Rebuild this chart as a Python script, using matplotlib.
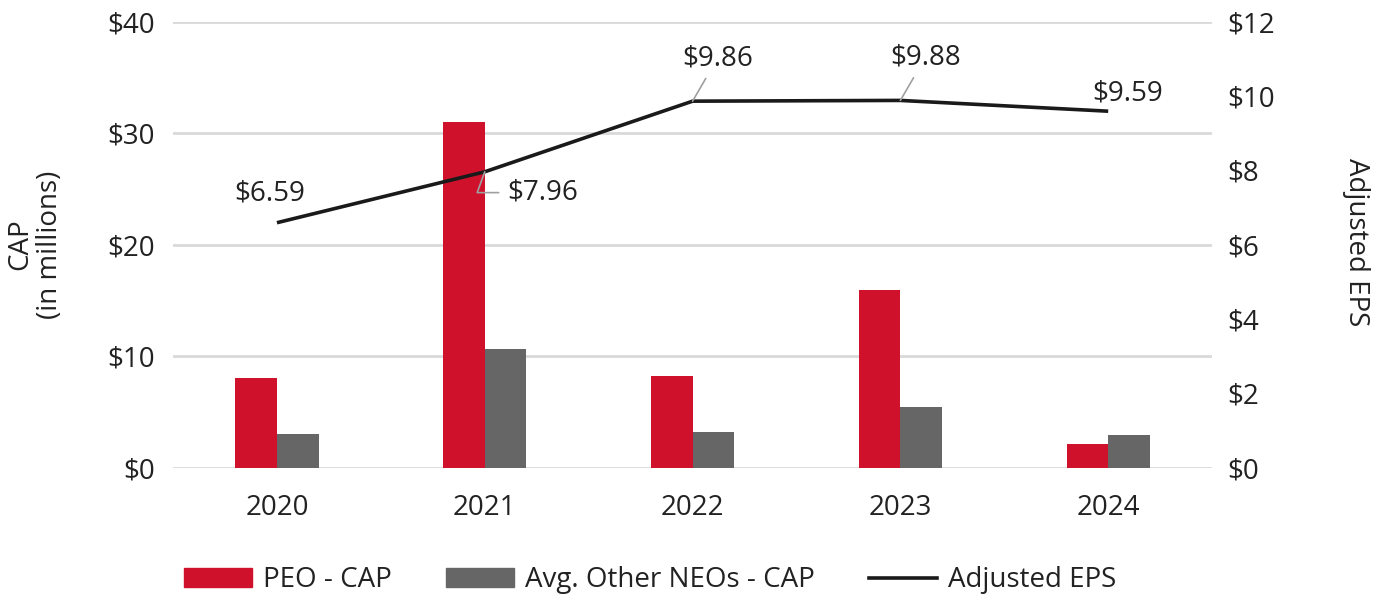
import matplotlib.pyplot as plt
from matplotlib.patches import Patch
from matplotlib.lines import Line2D
import numpy as np

plt.rcParams['font.family'] = ['Open Sans', 'DejaVu Sans']

years = ['2020', '2021', '2022', '2023', '2024']
peo_cap = [8.0, 31.0, 8.2, 15.9, 2.1]
neo_cap = [3.0, 10.6, 3.2, 5.4, 2.9]
adj_eps = [6.59, 7.96, 9.86, 9.88, 9.59]
eps_labels = ['$6.59', '$7.96', '$9.86', '$9.88', '$9.59']
left_ticks = [0, 10, 20, 30, 40]
right_ticks = [0, 2, 4, 6, 8, 10, 12]

RED = '#D0112B'
GRAY = '#666666'
GRID = '#D9D9D9'
LEAD = '#A0A0A0'
FS = 20

fig = plt.figure(figsize=(13.81, 6.02), dpi=100)
ax = fig.add_axes([0.1253, 0.2231, 0.7524, 0.741])
ax2 = ax.twinx()

x = np.arange(len(years))
w = 0.2
ax.bar(x - w / 2, peo_cap, w, color=RED, zorder=2)
ax.bar(x + w / 2, neo_cap, w, color=GRAY, zorder=2)

ax.set_xlim(-0.5, len(years) - 0.5)
ax.set_ylim(0, 40)
ax.set_yticks(left_ticks)
ax.set_yticklabels(['$%d' % v for v in left_ticks])
ax.set_xticks(x)
ax.set_xticklabels(years)
ax.grid(axis='y', color=GRID, linewidth=2, zorder=0)
ax.set_axisbelow(True)
ax.tick_params(axis='y', length=0, pad=13, labelsize=FS, labelcolor='#222222')
ax.tick_params(axis='x', length=0, pad=19, labelsize=FS, labelcolor='#222222')

ax2.plot(x, adj_eps, color='#1a1a1a', linewidth=2.6, solid_capstyle='butt', zorder=3)
ax2.set_ylim(0, 12)
ax2.set_yticks(right_ticks)
ax2.set_yticklabels(['$%d' % v for v in right_ticks])
ax2.tick_params(axis='y', length=0, pad=11, labelsize=FS, labelcolor='#222222')

for a in (ax, ax2):
    for s in a.spines.values():
        s.set_visible(False)

# label offsets in points (dx, dy), and whether a leader line is drawn
offsets = [(-5, 21), (16, -15), (18, 31), (18, 31), (14, 13)]
leaders = [None, 'elbow', 'straight', 'straight', None]
for i, (lab, off, ld) in enumerate(zip(eps_labels, offsets, leaders)):
    if ld is None:
        ax2.annotate(lab, xy=(x[i], adj_eps[i]), xytext=off, textcoords='offset points',
                     ha='center', va='center', fontsize=FS, color='#222222')
    elif ld == 'elbow':
        ax2.annotate(lab, xy=(x[i], adj_eps[i]), xytext=off, textcoords='offset points',
                     ha='left', va='center', fontsize=FS, color='#222222',
                     arrowprops=dict(arrowstyle='-', color=LEAD, lw=1.2,
                                     shrinkA=4, shrinkB=0,
                                     connectionstyle='angle,angleA=0,angleB=70,rad=0'))
    else:
        ax2.annotate(lab, xy=(x[i], adj_eps[i]), xytext=off, textcoords='offset points',
                     ha='center', va='center', fontsize=FS, color='#222222',
                     arrowprops=dict(arrowstyle='-', color=LEAD, lw=1.2,
                                     shrinkA=3, shrinkB=0))

fig.text(35 / 1381, 0.594, 'CAP\n(in millions)', rotation=90, ha='center', va='center',
         multialignment='center', fontsize=FS, color='#222222', linespacing=1.05)
fig.text(1356 / 1381, 0.598, 'Adjusted EPS', rotation=270, ha='center', va='center',
         fontsize=FS, color='#222222')

handles = [Patch(color=RED), Patch(color=GRAY), Line2D([], [], color='#1a1a1a', lw=2.6)]
fig.legend(handles, ['PEO - CAP', 'Avg. Other NEOs - CAP', 'Adjusted EPS'],
           loc='center', bbox_to_anchor=(0.4707, 0.0365), ncol=3, frameon=False,
           fontsize=FS, handlelength=2.45, handleheight=0.65, handletextpad=0.4,
           columnspacing=1.95, labelcolor='#222222')

fig.savefig('out.png', dpi=100)
